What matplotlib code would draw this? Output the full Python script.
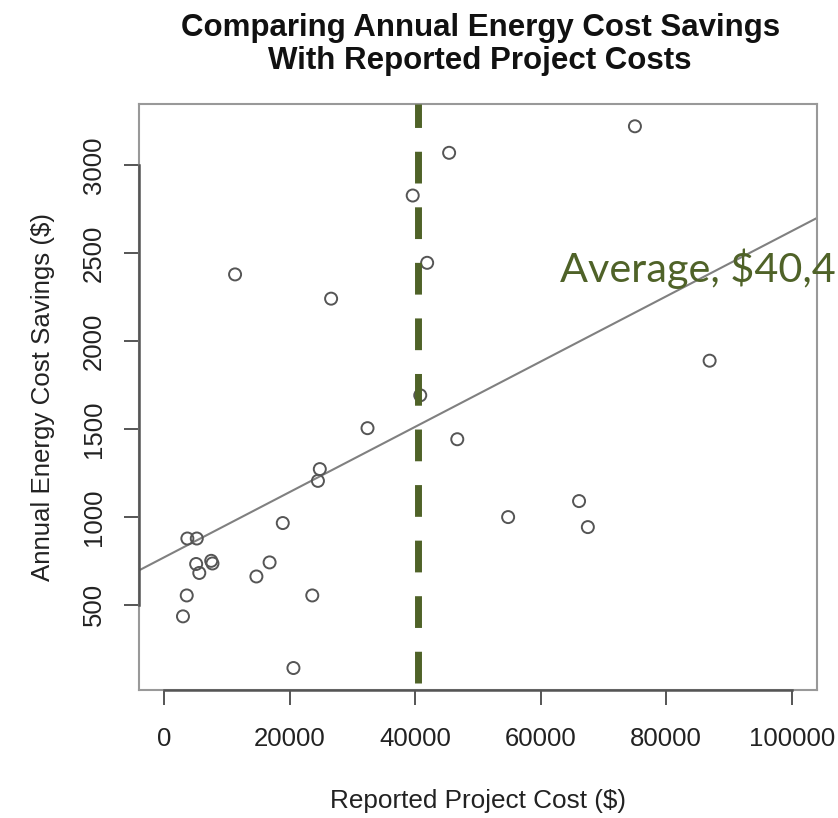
import matplotlib
matplotlib.use('Agg')
import matplotlib.pyplot as plt
import numpy as np

# --- data ---
project_cost = [45400, 39600, 41900, 11300, 26600, 40800, 75000, 86900,
                32400, 46700, 24800, 24500, 18900, 3700, 5200, 5100,
                7500, 7700, 5600, 16800, 14700, 3600, 3000, 23600,
                20600, 54800, 66100, 67500]
energy_savings = [3072, 2829, 2446, 2380, 2242, 1692, 3223, 1889,
                  1505, 1442, 1272, 1205, 965, 877, 877, 732,
                  750, 735, 681, 741, 661, 553, 434, 553,
                  140, 999, 1090, 942]
fit_intercept = 770
fit_slope = 0.01857
average_cost = 40400
x_ticks = [0, 20000, 40000, 60000, 80000, 100000]
y_ticks = [500, 1000, 1500, 2000, 2500, 3000]

plt.rcParams['font.family'] = ['Liberation Sans', 'DejaVu Sans']

fig = plt.figure(figsize=(8.38, 8.18), dpi=100)
ax = fig.add_axes([0.1659, 0.1565, 0.809, 0.7164])

ax.scatter(project_cost, energy_savings, s=75, facecolors='none',
           edgecolors='#555555', linewidths=1.4, zorder=3)

xl = (-4000, 104000)
xs = np.array(xl)
ax.plot(xs, fit_intercept + fit_slope * xs, color='#808080', lw=1.5, zorder=2)

ax.axvline(average_cost, ymin=0.012, ymax=1.0, color='#4F6228', lw=5.0,
           dashes=(32 / 7, 24 / 7), solid_capstyle='butt', dash_capstyle='butt',
           zorder=4)

ax.set_xlim(*xl)
ax.set_ylim(15, 3350)
ax.set_xticks(x_ticks)
ax.set_yticks(y_ticks)
ax.set_xticklabels([str(v) for v in x_ticks], fontsize=18.5, color='#222222')
ax.set_yticklabels([str(v) for v in y_ticks], fontsize=18.5, color='#222222',
                   rotation=90, va='center')
ax.tick_params(direction='out', length=11, width=1.4, color='#555555')
ax.tick_params(axis='x', pad=16)
ax.tick_params(axis='y', pad=13)

for s in ax.spines.values():
    s.set_color('#999999')
    s.set_linewidth(1.5)

# R style axis lines between first and last tick
ax.plot([x_ticks[0], x_ticks[-1]], [0, 0], transform=ax.get_xaxis_transform(),
        color='#555555', lw=1.8, clip_on=False, zorder=5)
ax.plot([0, 0], [y_ticks[0], y_ticks[-1]], transform=ax.get_yaxis_transform(),
        color='#555555', lw=1.8, clip_on=False, zorder=5)

ax.set_xlabel('Reported Project Cost ($)', fontsize=18.8, color='#222222', labelpad=27)
ax.set_ylabel('Annual Energy Cost Savings ($)', fontsize=18.6, color='#222222', labelpad=19)

fig.text(0.573, 0.966, 'Comparing Annual Energy Cost Savings', ha='center', va='center',
         fontsize=22.5, fontweight='bold', color='#111111')
fig.text(0.573, 0.926, 'With Reported Project Costs', ha='center', va='center',
         fontsize=22.5, fontweight='bold', color='#111111')

fig.text(560 / 838, (818 - 282) / 818, 'Average, $40,4', ha='left', va='baseline',
         fontsize=29.8, color='#4F6228', family=['Lato', 'DejaVu Sans'])

fig.savefig('out.png', dpi=100)
